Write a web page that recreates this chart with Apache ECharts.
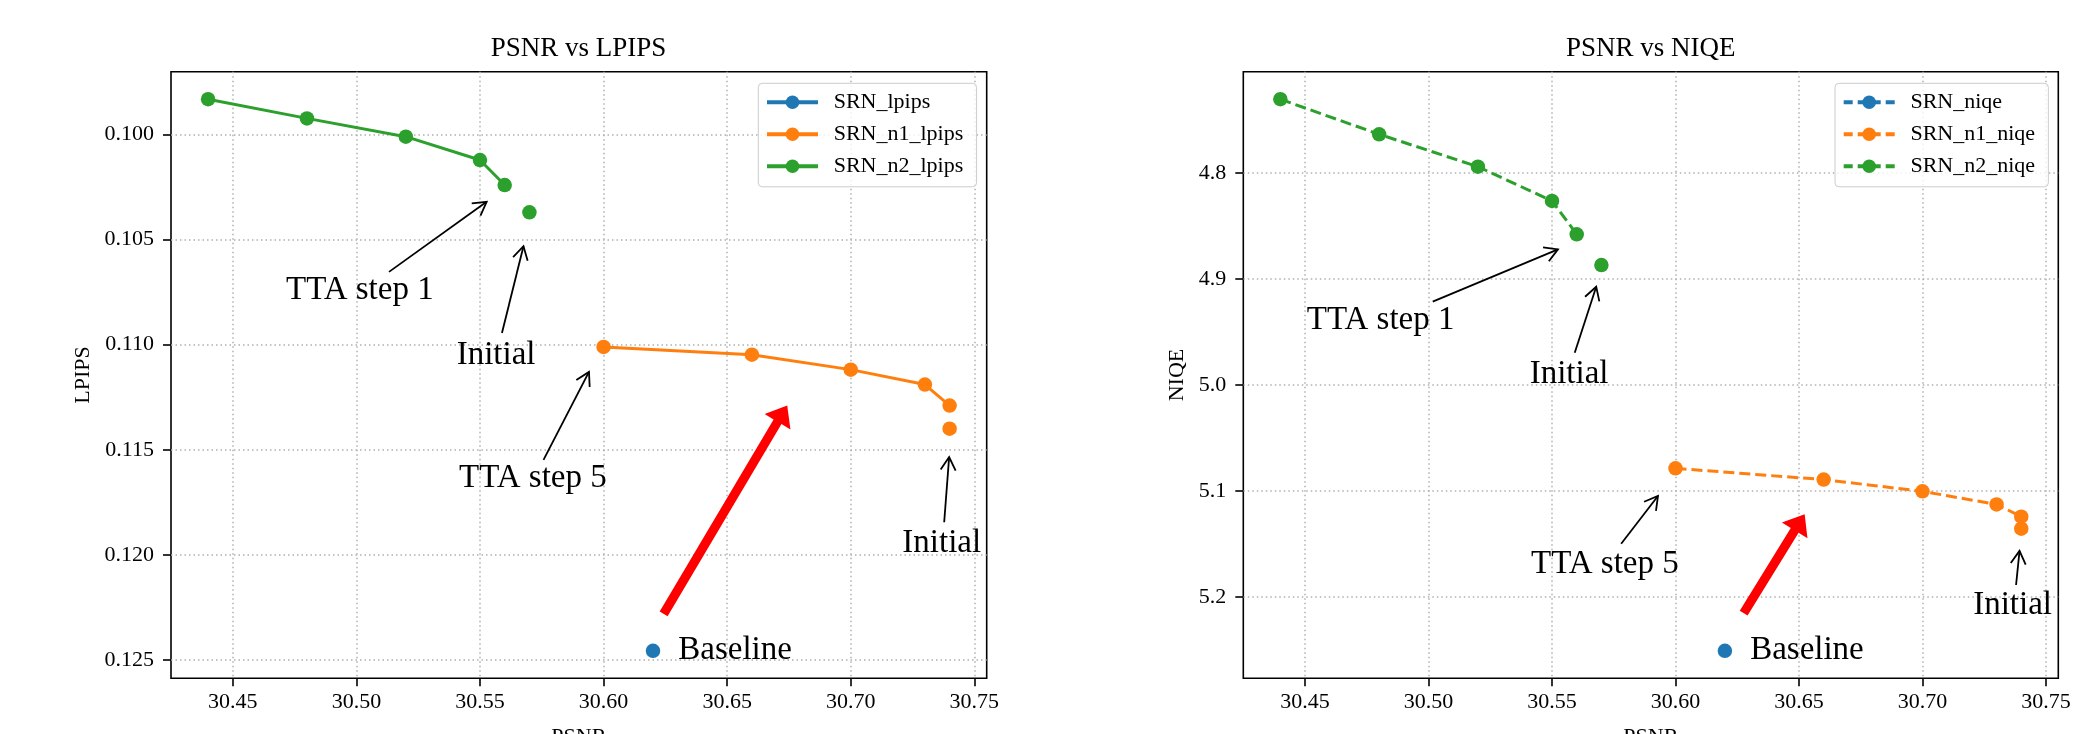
<!DOCTYPE html>
<html><head><meta charset="utf-8">
<script src="https://cdn.jsdelivr.net/npm/echarts@6/dist/echarts.min.js"></script>
<style>html,body{margin:0;padding:0;background:#fff}#c{width:2090px;height:734px}</style>
</head><body><div id="c"></div>
<script>
// ---- data ----
const n2StepPsnr = [30.44, 30.48, 30.52, 30.55, 30.56];
const n2InitPsnr = [30.57];
const n1StepPsnr = [30.60, 30.66, 30.70, 30.73, 30.74];
const n1InitPsnr = [30.74];
const basePsnr = [30.62];

const lpipsN2Steps = [0.09833, 0.09924, 0.10011, 0.10122, 0.10241];
const lpipsN2Init = [0.10371];
const lpipsN1Steps = [0.11011, 0.11048, 0.11119, 0.11190, 0.11290];
const lpipsN1Init = [0.11400];
const lpipsBase = [0.12456];

const niqeN2Steps = [4.7303, 4.7634, 4.7940, 4.8263, 4.8578];
const niqeN2Init = [4.8868];
const niqeN1Steps = [5.0788, 5.0894, 5.1005, 5.1128, 5.1244];
const niqeN1Init = [5.1358];
const niqeBase = [5.2510];

const psnrTicks = [30.45, 30.50, 30.55, 30.60, 30.65, 30.70, 30.75];
const lpipsTicks = [0.100, 0.105, 0.110, 0.115, 0.120, 0.125];
const niqeTicks = [4.8, 4.9, 5.0, 5.1, 5.2];

const noteLabels = ['TTA step 1', 'Initial', 'TTA step 5', 'Initial'];
const lpipsNoteText = [[30.5014, 0.10741], [30.5565, 0.11049], [30.5714, 0.11637], [30.7368, 0.11944]];
const lpipsNoteTail = [[30.5132, 0.10654], [30.5589, 0.10945], [30.5757, 0.11548], [30.7378, 0.11845]];
const lpipsNoteHead = [[30.5527, 0.10321], [30.5676, 0.10532], [30.5941, 0.11130], [30.7398, 0.11535]];
const lpipsBigArrow = [[30.6243, 0.12281], [30.6743, 0.11289]];

const niqeNoteText = [[30.4806, 4.9387], [30.5569, 4.9900], [30.5714, 5.1695], [30.7365, 5.2084]];
const niqeNoteTail = [[30.5017, 4.9214], [30.5592, 4.9696], [30.5780, 5.1500], [30.7379, 5.1889]];
const niqeNoteHead = [[30.5524, 4.8720], [30.5679, 4.9073], [30.5929, 5.1049], [30.7393, 5.1567]];
const niqeBigArrow = [[30.6276, 5.2154], [30.6523, 5.1220]];

// ---- style ----
const FONT = '"Liberation Serif","Times New Roman",serif';
const BLUE = '#1f77b4', ORANGE = '#ff7f0e', GREEN = '#2ca02c';
const zip = (xs, ys) => xs.map((x, i) => [x, ys[i]]);

function noteRows(text, tail, head) {
  return text.map((t, i) => [t[0], t[1], tail[i][0], tail[i][1], head[i][0], head[i][1]]);
}
function noteRender(params, api) {
  const t = api.coord([api.value(0), api.value(1)]);
  const a = api.coord([api.value(2), api.value(3)]);
  const b = api.coord([api.value(4), api.value(5)]);
  const ang = Math.atan2(b[1] - a[1], b[0] - a[0]);
  const L = 15, h = Math.PI / 6;
  const p1 = [b[0] - L * Math.cos(ang - h), b[1] - L * Math.sin(ang - h)];
  const p2 = [b[0] - L * Math.cos(ang + h), b[1] - L * Math.sin(ang + h)];
  return { type: 'group', children: [
    { type: 'line', shape: { x1: a[0], y1: a[1], x2: b[0], y2: b[1] }, style: { stroke: '#000', lineWidth: 1.8 } },
    { type: 'polyline', shape: { points: [p1, b, p2] }, style: { stroke: '#000', lineWidth: 1.8, fill: null } },
    { type: 'text', style: { x: t[0], y: t[1], text: noteLabels[params.dataIndex], fontSize: 33, fontFamily: FONT, fill: '#000', align: 'center', verticalAlign: 'middle' } }
  ]};
}
function bigArrowRender(params, api) {
  const a = api.coord([api.value(0), api.value(1)]);
  const b = api.coord([api.value(2), api.value(3)]);
  const dx = b[0] - a[0], dy = b[1] - a[1];
  const len = Math.sqrt(dx * dx + dy * dy);
  const ux = dx / len, uy = dy / len, nx = -uy, ny = ux;
  const sw = 4.6, hw = 15, hl = 19;
  const bx = b[0] - ux * hl, by = b[1] - uy * hl;
  const pts = [
    [a[0] + nx * sw, a[1] + ny * sw], [bx + nx * sw, by + ny * sw], [bx + nx * hw, by + ny * hw],
    [b[0], b[1]], [bx - nx * hw, by - ny * hw], [bx - nx * sw, by - ny * sw], [a[0] - nx * sw, a[1] - ny * sw]
  ];
  return { type: 'polygon', shape: { points: pts }, style: { fill: '#ff0000', stroke: null } };
}

function xAxisCfg(idx) {
  return {
    type: 'value', gridIndex: idx, min: 30.425, max: 30.755,
    name: 'PSNR', nameLocation: 'middle', nameGap: 48,
    nameTextStyle: { fontFamily: FONT, fontSize: 22, color: '#000' },
    axisLine: { show: false },
    axisTick: { show: true, length: 8, lineStyle: { color: '#000', width: 1.6 }, customValues: psnrTicks },
    axisLabel: { customValues: psnrTicks, margin: 13, fontFamily: FONT, fontSize: 22, color: '#000', formatter: v => v.toFixed(2) },
    splitLine: { show: true, lineStyle: { color: '#b0b0b0', width: 1.5, type: [1.5, 3] } }
  };
}
function yAxisCfg(idx, name, min, max, ticks, dec, gap) {
  return {
    type: 'value', gridIndex: idx, inverse: true, min: min, max: max,
    name: name, nameLocation: 'middle', nameGap: gap,
    nameTextStyle: { fontFamily: FONT, fontSize: 22, color: '#000' },
    axisLine: { show: false },
    axisTick: { show: true, length: 8, lineStyle: { color: '#000', width: 1.6 }, customValues: ticks },
    axisLabel: { customValues: ticks, margin: 17, fontFamily: FONT, fontSize: 22, color: '#000', formatter: v => v.toFixed(dec) },
    splitLine: { show: true, lineStyle: { color: '#b0b0b0', width: 1.5, type: [1.5, 3] } }
  };
}
function lineSeries(name, idx, data, color, dashed) {
  return {
    type: 'line', name: name, xAxisIndex: idx, yAxisIndex: idx, data: data,
    symbol: 'circle', symbolSize: 14.5, showSymbol: true, showAllSymbol: true,
    itemStyle: { color: color },
    lineStyle: { color: color, width: 3, type: dashed ? [11, 5] : 'solid' },
    emphasis: { disabled: true }, z: 3
  };
}
function scatterSeries(name, idx, data, color) {
  return {
    type: 'scatter', name: name, xAxisIndex: idx, yAxisIndex: idx, data: data,
    symbol: 'circle', symbolSize: 14.5, itemStyle: { color: color, opacity: 1 },
    emphasis: { disabled: true }, z: 3
  };
}
function baselineSeries(name, idx, data, dashed) {
  const s = lineSeries(name, idx, data, BLUE, dashed);
  s.label = { show: true, position: 'right', distance: 18, formatter: 'Baseline', fontFamily: FONT, fontSize: 33, color: '#000' };
  return s;
}
function legendCfg(names, left, dashed) {
  return {
    data: names, orient: 'vertical', left: left, top: 83.3,
    itemWidth: 51, itemHeight: 17, itemGap: 10,
    padding: [8, 13.3, 9.5, 6.7],
    lineStyle: { width: 4, type: dashed ? [9, 5] : 'solid' },
    backgroundColor: 'rgba(255,255,255,0.8)', borderColor: '#cccccc', borderWidth: 1, borderRadius: 4,
    textStyle: { fontFamily: FONT, fontSize: 22, color: '#000', lineHeight: 22, padding: [0, 0, 0, 10.7] },
    selectedMode: false
  };
}

const chart = echarts.init(document.getElementById('c'), null, { renderer: 'canvas' });
chart.setOption({
  animation: false,
  backgroundColor: '#fff',
  graphic: [
    { type: 'text', x: 578.5, y: 48.5, style: { text: 'PSNR vs LPIPS', fontFamily: FONT, fontSize: 27, fill: '#000', align: 'center', verticalAlign: 'middle' } },
    { type: 'text', x: 1650.8, y: 48.5, style: { text: 'PSNR vs NIQE', fontFamily: FONT, fontSize: 27, fill: '#000', align: 'center', verticalAlign: 'middle' } }
  ],
  grid: [
    { left: 171, top: 71.7, width: 815.7, height: 606.6, show: true, borderColor: '#000', borderWidth: 1.6, backgroundColor: 'transparent', containLabel: false, outerBoundsMode: 'none' },
    { left: 1243.3, top: 71.7, width: 815, height: 606.6, show: true, borderColor: '#000', borderWidth: 1.6, backgroundColor: 'transparent', containLabel: false, outerBoundsMode: 'none' }
  ],
  xAxis: [xAxisCfg(0), xAxisCfg(1)],
  yAxis: [
    yAxisCfg(0, 'LPIPS', 0.09702, 0.12587, lpipsTicks, 3, 77),
    yAxisCfg(1, 'NIQE', 4.7043, 5.2770, niqeTicks, 1, 55)
  ],
  legend: [
    legendCfg(['SRN_lpips', 'SRN_n1_lpips', 'SRN_n2_lpips'], 758.3, false),
    legendCfg(['SRN_niqe', 'SRN_n1_niqe', 'SRN_n2_niqe'], 1835, true)
  ],
  series: [
    baselineSeries('SRN_lpips', 0, zip(basePsnr, lpipsBase), false),
    lineSeries('SRN_n1_lpips', 0, zip(n1StepPsnr, lpipsN1Steps), ORANGE, false),
    scatterSeries('SRN_n1_lpips', 0, zip(n1InitPsnr, lpipsN1Init), ORANGE),
    lineSeries('SRN_n2_lpips', 0, zip(n2StepPsnr, lpipsN2Steps), GREEN, false),
    scatterSeries('SRN_n2_lpips', 0, zip(n2InitPsnr, lpipsN2Init), GREEN),
    { type: 'custom', name: 'notes_l', xAxisIndex: 0, yAxisIndex: 0, renderItem: noteRender,
      data: noteRows(lpipsNoteText, lpipsNoteTail, lpipsNoteHead), silent: true, z: 5 },
    { type: 'custom', name: 'arrow_l', xAxisIndex: 0, yAxisIndex: 0, renderItem: bigArrowRender,
      data: [[lpipsBigArrow[0][0], lpipsBigArrow[0][1], lpipsBigArrow[1][0], lpipsBigArrow[1][1]]], silent: true, z: 4 },

    baselineSeries('SRN_niqe', 1, zip(basePsnr, niqeBase), true),
    lineSeries('SRN_n1_niqe', 1, zip(n1StepPsnr, niqeN1Steps), ORANGE, true),
    scatterSeries('SRN_n1_niqe', 1, zip(n1InitPsnr, niqeN1Init), ORANGE),
    lineSeries('SRN_n2_niqe', 1, zip(n2StepPsnr, niqeN2Steps), GREEN, true),
    scatterSeries('SRN_n2_niqe', 1, zip(n2InitPsnr, niqeN2Init), GREEN),
    { type: 'custom', name: 'notes_r', xAxisIndex: 1, yAxisIndex: 1, renderItem: noteRender,
      data: noteRows(niqeNoteText, niqeNoteTail, niqeNoteHead), silent: true, z: 5 },
    { type: 'custom', name: 'arrow_r', xAxisIndex: 1, yAxisIndex: 1, renderItem: bigArrowRender,
      data: [[niqeBigArrow[0][0], niqeBigArrow[0][1], niqeBigArrow[1][0], niqeBigArrow[1][1]]], silent: true, z: 4 }
  ]
});
</script></body></html>
